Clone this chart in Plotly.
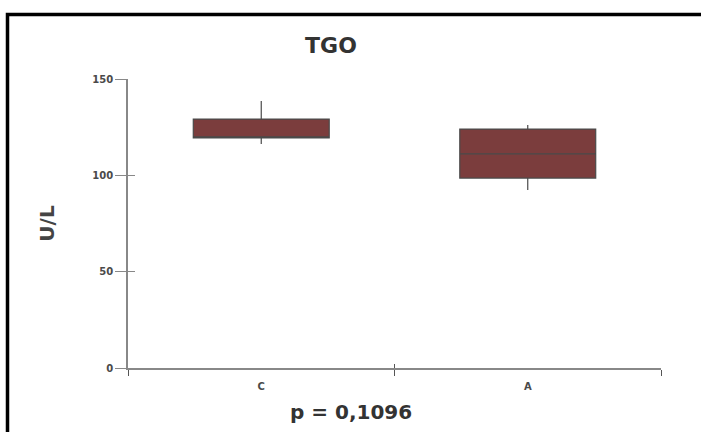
import plotly.graph_objects as go

categories = ["C", "A"]
q1_vals = [119.4, 98.6]
median_vals = [119.4, 111.1]
q3_vals = [129.2, 124.0]
lower_vals = [116.2, 92.4]
upper_vals = [138.6, 126.1]
y_ticks = [0, 50, 100, 150]

BOLD = "DejaVu Sans"

fig = go.Figure()
fig.add_trace(go.Box(
    x=categories, q1=q1_vals, median=median_vals, q3=q3_vals,
    lowerfence=lower_vals, upperfence=upper_vals,
    fillcolor="#7b3d3d", line=dict(color="#4a4a4a", width=1.2),
    whiskerwidth=0, width=0.51, boxpoints=False, showlegend=False,
    hoverinfo="skip",
))

tickfont = dict(family=BOLD, size=10, color="#4a4a4a", weight="bold")

fig.update_layout(
    width=701, height=432,
    margin=dict(l=128, r=40, t=79, b=64),
    paper_bgcolor="white", plot_bgcolor="white",
    font=dict(family=BOLD),
    title=dict(text="<b>TGO</b>", x=331/701, xanchor="center", y=1-45/432, yanchor="middle",
               font=dict(size=22, color="#333333")),
    xaxis=dict(
        type="category", range=[-0.5, 1.5], tickson="boundaries",
        ticks="outside", ticklen=6, tickwidth=1.3, tickcolor="#555555",
        showline=True, linecolor="#888888", linewidth=1.6,
        showgrid=False, zeroline=False, tickfont=tickfont, ticklabelstandoff=8,
    ),
    yaxis=dict(
        range=[0, 150], tickvals=y_ticks,
        ticks="outside", ticklen=11, tickwidth=1, tickcolor="#888888",
        showline=True, linecolor="#888888", linewidth=1.6,
        showgrid=False, zeroline=False, tickfont=tickfont,
        title=dict(text="<b>U/L</b>", font=dict(size=20, color="#444444"), standoff=32),
    ),
    yaxis2=dict(
        range=[0, 150], tickvals=y_ticks, overlaying="y", side="left",
        ticks="inside", ticklen=7, tickwidth=1, tickcolor="#888888",
        showticklabels=False, showline=False, showgrid=False, zeroline=False,
    ),
    xaxis2=dict(
        type="category", range=[-0.5, 1.5], overlaying="x", side="bottom",
        tickson="boundaries", ticks="inside", ticklen=4, tickwidth=1.3, tickcolor="#555555",
        showticklabels=False, showline=False, showgrid=False, zeroline=False,
        categoryarray=categories,
    ),
    annotations=[dict(
        text="<b>p = 0,1096</b>", xref="paper", yref="paper",
        x=(351-128)/533, y=-(412-368)/289, xanchor="center", yanchor="middle",
        showarrow=False, font=dict(size=20, color="#333333"),
    )],
    shapes=[dict(
        type="rect", xref="paper", yref="paper",
        x0=(7.5-128)/533, x1=(720-128)/533,
        y0=-(450-368)/289, y1=(368-14.5)/289,
        line=dict(color="black", width=3.5), fillcolor="rgba(0,0,0,0)", layer="above",
    )],
)
# invisible helper trace to activate overlay axes
fig.add_trace(go.Scatter(x=categories, y=[None, None], xaxis="x2", yaxis="y2",
                         showlegend=False, hoverinfo="skip"))

fig.write_html("out.html", config={"displayModeBar": False},
               post_script="document.body.style.margin='0';document.body.style.overflow='hidden';")
